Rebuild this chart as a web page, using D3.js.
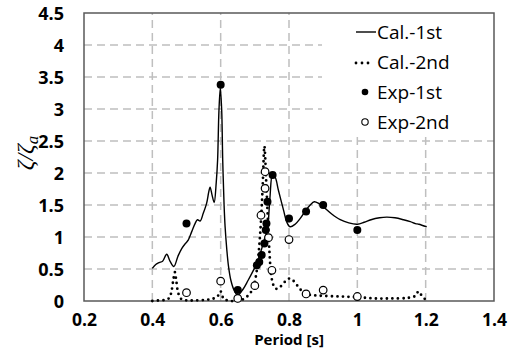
<!DOCTYPE html>
<html>
<head>
<meta charset="utf-8">
<script src="https://cdn.jsdelivr.net/npm/d3@7"></script>
<style>
  body { margin: 0; background: #fff; }
  svg { display: block; }
</style>
</head>
<body>
<div id="chart"></div>
<script>
// Cal.-1st (solid line)
const cal1Period = [0.400, 0.410, 0.420, 0.430, 0.442, 0.452, 0.463, 0.475, 0.486, 0.497, 0.505, 0.515, 0.525, 0.532, 0.540, 0.549, 0.559, 0.565, 0.569, 0.575, 0.581, 0.587, 0.591, 0.595, 0.599, 0.603, 0.606, 0.610, 0.613, 0.618, 0.623, 0.630, 0.640, 0.650, 0.665, 0.680, 0.695, 0.706, 0.718, 0.730, 0.737, 0.744, 0.752, 0.760, 0.769, 0.784, 0.793, 0.803, 0.818, 0.833, 0.847, 0.862, 0.874, 0.888, 0.901, 0.925, 0.950, 0.975, 1.000, 1.020, 1.040, 1.065, 1.086, 1.110, 1.135, 1.155, 1.170, 1.180, 1.203];
const cal1Value = [0.51, 0.57, 0.60, 0.62, 0.73, 0.62, 0.54, 0.70, 0.82, 0.90, 0.95, 1.08, 1.21, 1.27, 1.25, 1.37, 1.53, 1.70, 1.78, 1.65, 1.54, 1.85, 2.20, 2.98, 3.33, 2.98, 2.20, 1.50, 1.16, 0.80, 0.54, 0.32, 0.16, 0.09, 0.18, 0.32, 0.47, 0.59, 0.78, 1.00, 1.12, 1.60, 1.98, 1.93, 1.73, 1.42, 1.24, 1.16, 1.20, 1.29, 1.40, 1.50, 1.55, 1.52, 1.47, 1.36, 1.27, 1.22, 1.20, 1.23, 1.27, 1.30, 1.31, 1.30, 1.27, 1.24, 1.21, 1.20, 1.16];

// Cal.-2nd (dotted line)
const cal2Period = [0.400, 0.420, 0.440, 0.450, 0.456, 0.462, 0.466, 0.470, 0.476, 0.485, 0.500, 0.530, 0.560, 0.580, 0.592, 0.598, 0.602, 0.608, 0.620, 0.650, 0.670, 0.686, 0.696, 0.705, 0.712, 0.718, 0.723, 0.728, 0.733, 0.738, 0.743, 0.748, 0.755, 0.763, 0.774, 0.788, 0.800, 0.808, 0.823, 0.837, 0.850, 0.870, 0.900, 0.950, 1.000, 1.050, 1.100, 1.150, 1.170, 1.179, 1.190, 1.200];
const cal2Value = [0.00, 0.01, 0.02, 0.05, 0.15, 0.35, 0.45, 0.32, 0.12, 0.03, 0.01, 0.01, 0.02, 0.04, 0.08, 0.15, 0.14, 0.04, 0.01, 0.00, 0.04, 0.12, 0.22, 0.45, 0.80, 1.25, 1.80, 2.42, 1.90, 1.30, 0.75, 0.40, 0.24, 0.19, 0.22, 0.30, 0.35, 0.34, 0.25, 0.16, 0.11, 0.09, 0.08, 0.07, 0.06, 0.04, 0.04, 0.05, 0.08, 0.15, 0.07, 0.02];

// Exp-1st (filled circles)
const exp1Period = [0.50, 0.60, 0.65, 0.706, 0.713, 0.720, 0.728, 0.732, 0.734, 0.737, 0.752, 0.80, 0.85, 0.90, 1.00];
const exp1Value = [1.21, 3.38, 0.17, 0.56, 0.61, 0.72, 0.90, 1.11, 1.21, 1.55, 1.97, 1.29, 1.40, 1.50, 1.11];

// Exp-2nd (open circles)
const exp2Period = [0.50, 0.60, 0.65, 0.70, 0.718, 0.730, 0.730, 0.740, 0.750, 0.80, 0.85, 0.90, 1.00];
const exp2Value = [0.13, 0.31, 0.04, 0.24, 1.34, 1.76, 2.02, 0.99, 0.48, 0.96, 0.11, 0.17, 0.07];

const xTicks = [0.2, 0.4, 0.6, 0.8, 1, 1.2, 1.4];
const yTicks = [0, 0.5, 1, 1.5, 2, 2.5, 3, 3.5, 4, 4.5];
const legendLabels = ['Cal.-1st', 'Cal.-2nd', 'Exp-1st', 'Exp-2nd'];

const width = 510;
const height = 351;
const margin = {top: 13, right: 16, bottom: 50, left: 84};

const svg = d3.select('#chart')
    .append('svg')
        .attr('width', width)
        .attr('height', height);

const x = d3.scaleLinear()
    .domain([0.2, 1.4])
    .range([margin.left, width - margin.right]);
const y = d3.scaleLinear()
    .domain([0, 4.5])
    .range([height - margin.bottom, margin.top]);

const gridColor = '#bfbfbf';
const axisColor = '#595959';
const tickFont = '"Open Sans", "Noto Sans", sans-serif';

// grid
svg.append('g')
    .selectAll('line')
    .data(yTicks.filter(d => d > 0 && d < 4.5))
    .join('line')
        .attr('x1', x(0.2))
        .attr('x2', x(1.4))
        .attr('y1', d => y(d))
        .attr('y2', d => y(d))
        .attr('stroke', gridColor)
        .attr('stroke-width', 1.5)
        .attr('stroke-dasharray', '8,5');
svg.append('g')
    .selectAll('line')
    .data(xTicks.filter(d => d > 0.2 && d < 1.4))
    .join('line')
        .attr('x1', d => x(d))
        .attr('x2', d => x(d))
        .attr('y1', y(0))
        .attr('y2', y(4.5))
        .attr('stroke', gridColor)
        .attr('stroke-width', 1.5)
        .attr('stroke-dasharray', '8,5');

// legend background hides grid behind it
svg.append('rect')
    .attr('x', 322)
    .attr('y', y(4.5))
    .attr('width', x(1.4) - 322)
    .attr('height', 124)
    .attr('fill', '#fff');

// axes labels (no tick marks)
const xx = g =>
    g
        .attr('transform', `translate(0,${y(0)})`)
        .call(d3.axisBottom(x).tickValues(xTicks).tickSize(0).tickPadding(0).tickFormat(d3.format('~g')))
        .call(g => g.select('.domain').remove())
        .call(g => g.selectAll('.tick text')
            .attr('y', 25)
            .attr('dy', 0)
            .attr('fill', '#000')
            .style('font-family', tickFont)
            .style('font-weight', 'bold')
            .style('font-size', '17.5px'));
const yy = g =>
    g
        .attr('transform', `translate(${x(0.2)},0)`)
        .call(d3.axisLeft(y).tickValues(yTicks).tickSize(0).tickPadding(20).tickFormat(d3.format('~g')))
        .call(g => g.select('.domain').remove())
        .call(g => g.selectAll('.tick text')
            .attr('dy', '0.36em')
            .attr('fill', '#000')
            .style('font-family', tickFont)
            .style('font-weight', 'bold')
            .style('font-size', '18px'));
svg.append('g').call(xx);
svg.append('g').call(yy);

// frame
svg.append('rect')
    .attr('x', x(0.2))
    .attr('y', y(4.5))
    .attr('width', x(1.4) - x(0.2))
    .attr('height', y(0) - y(4.5))
    .attr('fill', 'none')
    .attr('stroke', axisColor)
    .attr('stroke-width', 1.5);

// axis titles
svg.append('text')
    .attr('x', (x(0.2) + x(1.4)) / 2)
    .attr('y', 345)
    .attr('text-anchor', 'middle')
    .style('font-family', tickFont)
    .style('font-weight', 'bold')
    .style('font-size', '15px')
    .text('Period [s]');

const yTitle = svg.append('text')
    .attr('transform', 'translate(33,153) rotate(-90)')
    .attr('text-anchor', 'middle')
    .style('font-family', '"Liberation Serif", "DejaVu Serif", serif')
    .style('font-style', 'italic')
    .style('font-size', '24px');
yTitle.append('tspan').text('ζ/ζ');
yTitle.append('tspan').attr('dy', 5).style('font-size', '17px').text('a');

// lines
const line = (px, py) => d3.line()
    .curve(d3.curveCatmullRom.alpha(0.5))
    .x((d, i) => x(px[i]))
    .y((d, i) => y(d));

svg.append('path')
    .datum(cal2Value)
        .attr('fill', 'none')
        .attr('stroke', '#000')
        .attr('stroke-width', 2.8)
        .attr('stroke-linecap', 'round')
        .attr('stroke-dasharray', '0,5.5')
        .attr('d', line(cal2Period, cal2Value));

svg.append('path')
    .datum(cal1Value)
        .attr('fill', 'none')
        .attr('stroke', '#000')
        .attr('stroke-width', 1.4)
        .attr('d', line(cal1Period, cal1Value));

// markers
svg.append('g')
    .selectAll('circle')
    .data(exp2Value)
    .join('circle')
        .attr('cx', (d, i) => x(exp2Period[i]))
        .attr('cy', d => y(d))
        .attr('r', 3.8)
        .attr('fill', '#fff')
        .attr('stroke', '#000')
        .attr('stroke-width', 1.2);

svg.append('g')
    .selectAll('circle')
    .data(exp1Value)
    .join('circle')
        .attr('cx', (d, i) => x(exp1Period[i]))
        .attr('cy', d => y(d))
        .attr('r', 4)
        .attr('fill', '#000');

// legend
const lg = svg.append('g');
const rowY = i => 32 + i * 30;
lg.selectAll('text')
    .data(legendLabels)
    .join('text')
        .attr('x', 377)
        .attr('y', (d, i) => rowY(i))
        .attr('dy', '0.36em')
        .style('font-family', '"Open Sans", "Noto Sans", sans-serif')
        .style('font-size', '19px')
        .text(d => d);
lg.append('line')
    .attr('x1', 356).attr('x2', 376)
    .attr('y1', rowY(0)).attr('y2', rowY(0))
    .attr('stroke', '#000')
    .attr('stroke-width', 1.4);
lg.append('line')
    .attr('x1', 356).attr('x2', 374)
    .attr('y1', rowY(1) + 1).attr('y2', rowY(1) + 1)
    .attr('stroke', '#000')
    .attr('stroke-width', 2.8)
    .attr('stroke-linecap', 'round')
    .attr('stroke-dasharray', '0,6');
lg.append('circle')
    .attr('cx', 365).attr('cy', rowY(2))
    .attr('r', 3.3)
    .attr('fill', '#000');
lg.append('circle')
    .attr('cx', 365).attr('cy', rowY(3))
    .attr('r', 3.2)
    .attr('fill', '#fff')
    .attr('stroke', '#000')
    .attr('stroke-width', 1.1);
</script>
</body>
</html>
